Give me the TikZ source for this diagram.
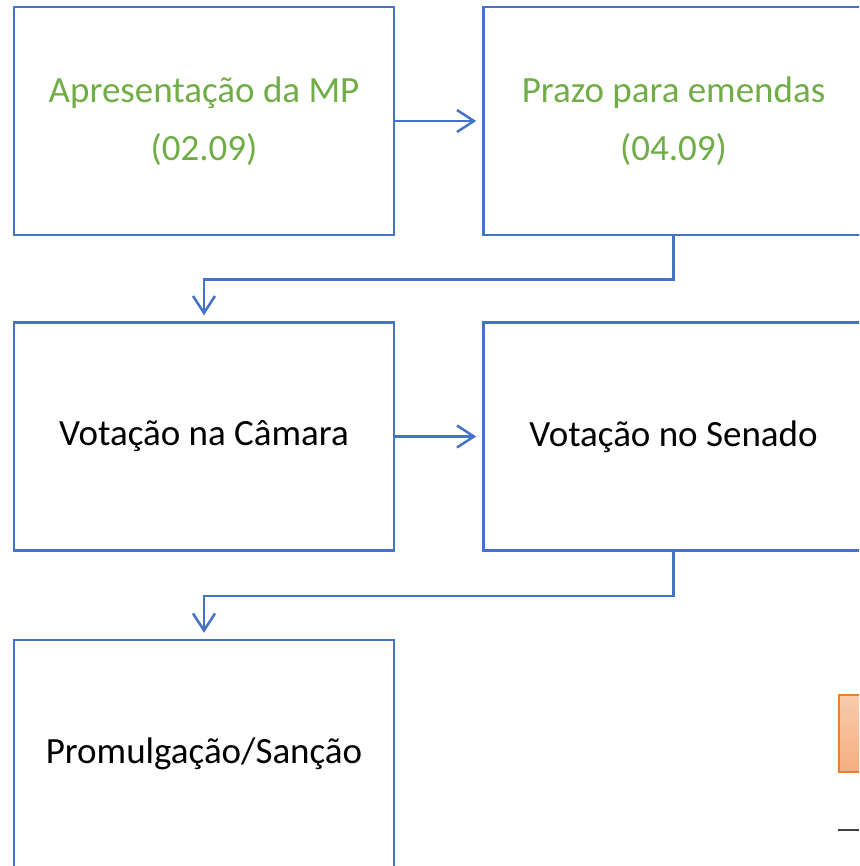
\documentclass[tikz,border=0pt]{standalone}
\usepackage{fontspec}
\setmainfont{Carlito}
\usetikzlibrary{arrows.meta,positioning,calc}
\definecolor{mpblue}{HTML}{4472C4}
\definecolor{mpgreen}{HTML}{70AD47}
\definecolor{mporange}{HTML}{ED7D31}

\tikzset{
    etapa/.style={rectangle, draw=mpblue, line width=2.5pt, fill=white, minimum width=380pt, minimum height=228pt, font=\fontsize{37}{58}\selectfont, align=center},
    conn/.style={draw=mpblue, line width=2.5pt, -{Straight Barb[length=17pt,width=22pt,line width=2.5pt]}, shorten >=6pt}
}

\begin{document}
\begin{tikzpicture}[x=1pt, y=-1pt]
    \useasboundingbox (0,0) rectangle (859,866);
    \clip (0,0) rectangle (859,866);

    % Primeira linha
    \node[etapa, text=mpgreen] (apres) at (204,121) {Apresentação da MP\\(02.09)};
    \node[etapa, text=mpgreen, right=87pt of apres] (prazo) {Prazo para emendas\\(04.09)};

    % Segunda linha
    \node[etapa] (camara) at (204,436.5) {Votação na Câmara};
    \node[etapa, right=87pt of camara] (senado) {Votação no Senado};

    % Terceira linha
    \node[etapa] (sancao) at (204,754) {Promulgação/Sanção};

    % Caixa laranja (cortada)
    \node[rectangle, draw=mporange, line width=2pt, top color=mporange!40!white, bottom color=mporange!62!white, minimum width=60pt, minimum height=77pt, anchor=north west] (caixa) at (838,694) {};
    \coordinate (tracoA) at (838,830);
    \coordinate (tracoB) at (859,830);

    % Setas
    \draw[conn] (apres) -- (prazo);
    \draw[conn] (prazo.south) -- ++(0,43) -| (camara.north);
    \draw[conn] (camara) -- (senado);
    \draw[conn] (senado.south) -- ++(0,44) -| (sancao.north);
    \draw[black!75, line width=2pt] (tracoA) -- (tracoB);
\end{tikzpicture}
\end{document}
